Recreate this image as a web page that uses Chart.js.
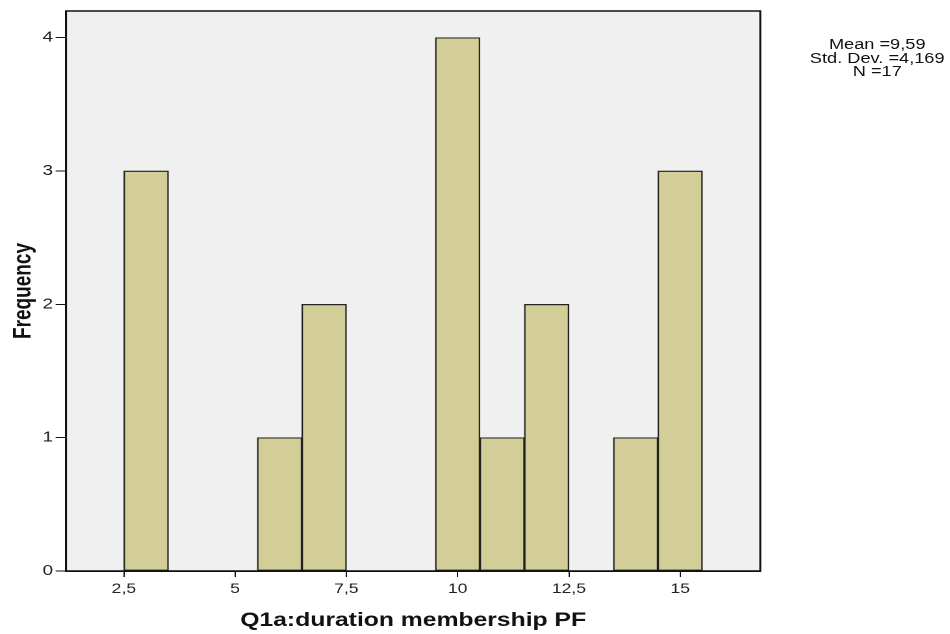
<!DOCTYPE html>
<html>
<head>
<meta charset="utf-8">
<script src="https://cdn.jsdelivr.net/npm/chart.js@4.4.1/dist/chart.umd.min.js"></script>
<style>
    html, body { margin: 0; padding: 0; background: #fff; }
    /* the reference is a horizontally stretched SPSS export, so stretch the same way */
    #wrap {
        position: relative;
        width: 731px;
        height: 634px;
        transform: scaleX(1.2996);
        transform-origin: 0 0;
    }
    #stats {
        position: absolute;
        left: 600px;
        top: 38px;
        width: 150px;
        text-align: center;
        font: 14px "Liberation Sans", Arial, sans-serif;
        line-height: 13.5px;
        color: #111;
    }
</style>
</head>
<body>
<div id="wrap">
    <canvas id="histChart"></canvas>
    <div id="stats"></div>
</div>
<script>
// --- Data ---
const binCenters = [3, 6, 7, 10, 11, 12, 14, 15];
const frequencies = [3, 1, 2, 4, 1, 2, 1, 3];
const xTickValues = [2.5, 5, 7.5, 10, 12.5, 15];
const yTickValues = [0, 1, 2, 3, 4];
const statsLines = ['Mean =9,59', 'Std. Dev. =4,169', 'N =17'];

const FONT = '"Liberation Sans", Arial, sans-serif';

document.getElementById('stats').innerHTML = statsLines.join('<br>');

// grey plot background and the black box round it
const plotFrame = {
    id: 'plotFrame',
    beforeDraw(chart) {
        const { ctx, chartArea: a } = chart;
        ctx.save();
        ctx.fillStyle = '#f0f0f0';
        ctx.fillRect(a.left, a.top, a.width, a.height);
        ctx.restore();
    },
    afterDraw(chart) {
        const { ctx, chartArea: a } = chart;
        ctx.save();
        ctx.strokeStyle = '#111';
        ctx.lineWidth = 1.5;
        ctx.strokeRect(a.left, a.top, a.width, a.height);
        ctx.restore();
    }
};

const commaFormat = v => String(v).replace('.', ',');

new Chart(document.getElementById('histChart'), {
    type: 'bar',
    data: {
        datasets: [{
            data: binCenters.map((x, i) => ({ x: x, y: frequencies[i] })),
            backgroundColor: '#d3ce98',
            borderColor: '#222',
            borderWidth: 1.2,
            borderSkipped: false,
            barPercentage: 1,
            categoryPercentage: 1
        }]
    },
    options: {
        responsive: true,
        maintainAspectRatio: false,
        animation: false,
        devicePixelRatio: 2,
        layout: { padding: { top: 11, right: 146, left: 0, bottom: 0 } },
        plugins: {
            legend: { display: false },
            tooltip: { enabled: false }
        },
        scales: {
            x: {
                type: 'linear',
                min: 1.2,
                max: 16.8,
                offset: false,
                afterBuildTicks: scale => { scale.ticks = xTickValues.map(v => ({ value: v })); },
                afterFit: scale => { scale.height = 63; },
                grid: { offset: false, drawOnChartArea: false, tickLength: 6, color: '#111', lineWidth: 1 },
                border: { color: '#111', width: 1.5 },
                ticks: {
                    callback: commaFormat,
                    color: '#222',
                    padding: 4,
                    maxRotation: 0,
                    font: { family: FONT, size: 13.5 }
                },
                title: {
                    display: true,
                    text: 'Q1a:duration membership PF',
                    color: '#111',
                    padding: { top: 0, bottom: 2 },
                    font: { family: FONT, size: 19, weight: 'bold' }
                }
            },
            y: {
                min: 0,
                max: 4.2,
                afterBuildTicks: scale => { scale.ticks = yTickValues.map(v => ({ value: v })); },
                afterFit: scale => { scale.width = 50.8; },
                grid: { drawOnChartArea: false, tickLength: 8, color: '#111', lineWidth: 1 },
                border: { color: '#111', width: 1.5 },
                ticks: {
                    callback: commaFormat,
                    color: '#222',
                    padding: 2,
                    font: { family: FONT, size: 14.5 }
                },
                title: {
                    display: true,
                    text: 'Frequency',
                    color: '#111',
                    padding: { top: 7, bottom: 0 },
                    font: { family: FONT, size: 19, weight: 'bold' }
                }
            }
        }
    },
    plugins: [plotFrame]
});
</script>
</body>
</html>
